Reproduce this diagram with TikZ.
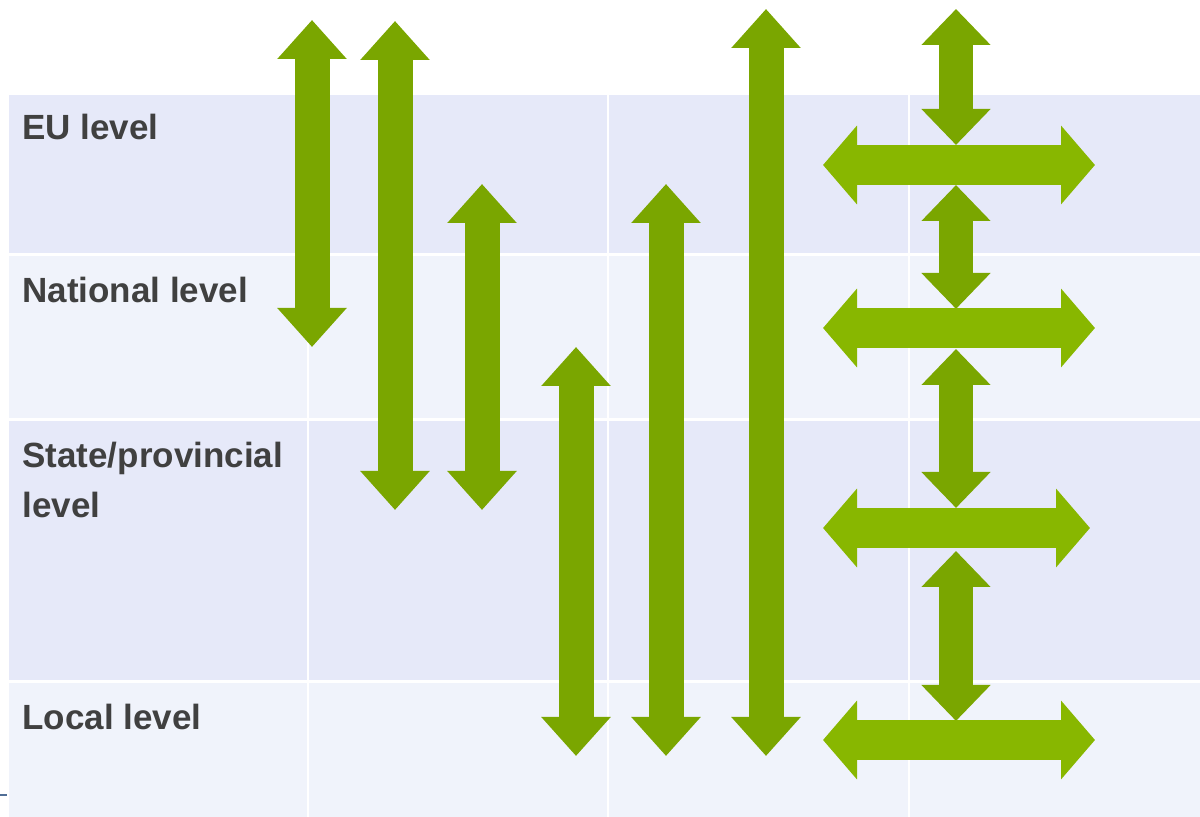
\documentclass[tikz,border=0pt]{standalone}
\usepackage{fontspec}
\setmainfont{Liberation Sans}
\usetikzlibrary{arrows.meta}
\definecolor{banddark}{RGB}{230,233,249}
\definecolor{bandlight}{RGB}{240,243,251}
\definecolor{vgreen}{RGB}{122,166,0}
\definecolor{hgreen}{RGB}{136,183,0}
\definecolor{labelgray}{RGB}{64,64,64}
\definecolor{tickblue}{RGB}{80,110,150}
\tikzset{
  levellabel/.style={anchor=base west, inner sep=0pt, text=labelgray,
    font=\fontsize{17.5pt}{25pt}\selectfont\bfseries, align=left},
  vlink/.style={vgreen, line width=17.5pt,
    {Triangle[width=33.5pt,length=19.5pt]}-{Triangle[width=33.5pt,length=19.5pt]}},
  slink/.style={vgreen, line width=17pt,
    {Triangle[width=33.5pt,length=18pt]}-{Triangle[width=33.5pt,length=18pt]}},
  hlink/.style={hgreen, line width=20pt,
    {Triangle[width=38.5pt,length=17pt]}-{Triangle[width=38.5pt,length=17pt]}}
}
\begin{document}
\begin{tikzpicture}[x=0.5pt, y=-0.5pt]
    \useasboundingbox (0,0) rectangle (1200,817);
    \fill[white] (0,0) rectangle (1200,817);
% Draw level bands
    \fill[banddark] (9,95) rectangle (1200,253);
    \fill[bandlight] (9,256) rectangle (1200,418);
    \fill[banddark] (9,421) rectangle (1200,680);
    \fill[bandlight] (9,683) rectangle (1200,817);
    \foreach \x in {308,608,909} {
        \draw[white, line width=1pt] (\x,95) -- (\x,817);
    }
    \fill[tickblue] (0,794) rectangle (7,796);
% Level labels
    \node[levellabel] (eu) at (22,140) {EU level};
    \node[levellabel] (national) at (22,303) {National level};
    \node[levellabel] (state) at (22,518) {State/provincial\\level};
    \node[levellabel] (local) at (22,730) {Local level};
% Vertical links between levels
    \foreach \x/\ya/\yb [count=\i] in {312/20/347, 395/21/510, 482/184/510,
                                       576/347/756, 666/184/756, 766/9/756} {
        \coordinate (top\i) at (\x,\ya);
        \coordinate (bot\i) at (\x,\yb);
        \draw[vlink] (top\i) -- (bot\i);
    }
% Links in the right column
    \foreach \ya/\yb [count=\i] in {9/145, 185/309, 349/508, 551/721} {
        \coordinate (stop\i) at (956,\ya);
        \coordinate (sbot\i) at (956,\yb);
        \draw[slink] (stop\i) -- (sbot\i);
    }
    \foreach \y/\xb [count=\i] in {165/1095, 328/1095, 528/1090, 740/1095} {
        \coordinate (west\i) at (823,\y);
        \coordinate (east\i) at (\xb,\y);
        \draw[hlink] (west\i) -- (east\i);
    }
\end{tikzpicture}
\end{document}
